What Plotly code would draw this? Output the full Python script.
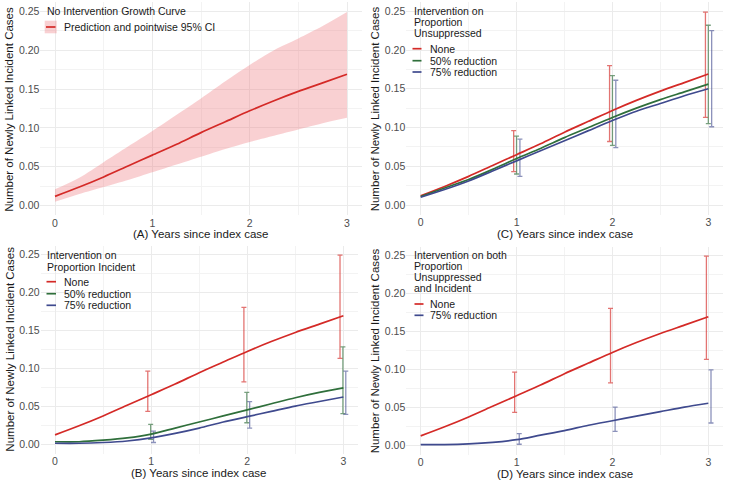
import plotly.graph_objects as go

years = [0, 0.25, 0.5, 0.75, 1, 1.25, 1.5, 1.75, 2, 2.25, 2.5, 2.75, 3]
none_pred = [0.012, 0.024, 0.037, 0.051, 0.065, 0.079, 0.094, 0.108, 0.122, 0.135, 0.147, 0.158, 0.169]
none_upper = [0.021, 0.036, 0.056, 0.076, 0.096, 0.117, 0.138, 0.160, 0.181, 0.200, 0.215, 0.231, 0.249]
none_lower = [0.005, 0.015, 0.024, 0.033, 0.043, 0.053, 0.063, 0.073, 0.082, 0.090, 0.098, 0.106, 0.113]

# Panel C: intervention on proportion unsuppressed
c50_pred = [0.011, 0.022, 0.033, 0.046, 0.060, 0.073, 0.087, 0.100, 0.113, 0.125, 0.136, 0.146, 0.156]
c75_pred = [0.010, 0.020, 0.031, 0.044, 0.057, 0.070, 0.083, 0.096, 0.109, 0.121, 0.131, 0.141, 0.150]

# Panel B: intervention on proportion incident
b50_pred = [0.003, 0.003, 0.005, 0.008, 0.013, 0.021, 0.029, 0.037, 0.045, 0.053, 0.061, 0.068, 0.074]
b75_pred = [0.001, 0.001, 0.002, 0.004, 0.008, 0.014, 0.021, 0.029, 0.036, 0.043, 0.050, 0.056, 0.062]

# Panel D: intervention on both
d75_pred = [0.0005, 0.0006, 0.0015, 0.0035, 0.007, 0.013, 0.019, 0.026, 0.032, 0.038, 0.044, 0.050, 0.055]

ci_years = [1, 2, 3]
none_ci_val = [0.065, 0.122, 0.169]
none_ci_lo = [0.043, 0.082, 0.113]
none_ci_hi = [0.096, 0.180, 0.249]

c50_ci_val = [0.060, 0.113, 0.156]
c50_ci_lo = [0.040, 0.077, 0.105]
c50_ci_hi = [0.089, 0.167, 0.232]
c75_ci_val = [0.057, 0.109, 0.150]
c75_ci_lo = [0.037, 0.074, 0.101]
c75_ci_hi = [0.085, 0.161, 0.225]

b50_ci_val = [0.013, 0.045, 0.074]
b50_ci_lo = [0.006, 0.028, 0.040]
b50_ci_hi = [0.026, 0.068, 0.128]
b75_ci_val = [0.008, 0.036, 0.062]
b75_ci_lo = [0.002, 0.021, 0.039]
b75_ci_hi = [0.017, 0.056, 0.096]

d75_ci_val = [0.007, 0.032, 0.055]
d75_ci_lo = [0.001, 0.018, 0.029]
d75_ci_hi = [0.015, 0.050, 0.099]

x_tick_labels = ["0", "1", "2", "3"]
y_tick_labels = ["0.00", "0.05", "0.10", "0.15", "0.20", "0.25"]

RED = "#d42a27"
GREEN = "#2f6f3b"
BLUE = "#3f4a8e"
RED_E = "rgba(212,42,39,0.65)"
GREEN_E = "rgba(47,111,59,0.65)"
BLUE_E = "rgba(63,74,142,0.6)"
RIBBON = "rgba(238,120,125,0.35)"

W, H = 730, 486
FONT = "Liberation Sans, Arial, sans-serif"
GRID = "#ebebeb"
TXT = "#1a1a1a"

fig = go.Figure()

def line(x, y, color, xa, ya):
    fig.add_trace(go.Scatter(x=x, y=y, mode="lines",
                             line=dict(color=color, width=1.7, shape="spline", smoothing=0.8),
                             xaxis=xa, yaxis=ya, showlegend=False, hoverinfo="skip"))

def ebar(x, val, lo, hi, color, off, xa, ya):
    fig.add_trace(go.Scatter(
        x=[v + off for v in x], y=val, mode="markers",
        marker=dict(size=1, opacity=0),
        error_y=dict(type="data", symmetric=False,
                     array=[h - v for h, v in zip(hi, val)],
                     arrayminus=[v - l for v, l in zip(val, lo)],
                     color=color, thickness=1.3, width=2.5),
        xaxis=xa, yaxis=ya, showlegend=False, hoverinfo="skip"))

# Panel A
fig.add_trace(go.Scatter(x=years, y=none_lower, mode="lines",
                         line=dict(width=0, color="rgba(0,0,0,0)", shape="spline", smoothing=0.8),
                         showlegend=False, xaxis="x", yaxis="y", hoverinfo="skip"))
fig.add_trace(go.Scatter(x=years, y=none_upper, mode="lines",
                         line=dict(width=0, color="rgba(0,0,0,0)", shape="spline", smoothing=0.8),
                         fill="tonexty", fillcolor=RIBBON,
                         showlegend=False, xaxis="x", yaxis="y", hoverinfo="skip"))
line(years, none_pred, RED, "x", "y")

# Panel C (top right)
ebar(ci_years, none_ci_val, none_ci_lo, none_ci_hi, RED_E, -0.03, "x2", "y2")
ebar(ci_years, c50_ci_val, c50_ci_lo, c50_ci_hi, GREEN_E, 0.0, "x2", "y2")
ebar(ci_years, c75_ci_val, c75_ci_lo, c75_ci_hi, BLUE_E, 0.035, "x2", "y2")
line(years, none_pred, RED, "x2", "y2")
line(years, c50_pred, GREEN, "x2", "y2")
line(years, c75_pred, BLUE, "x2", "y2")

# Panel B (bottom left)
ebar(ci_years, none_ci_val, none_ci_lo, none_ci_hi, RED_E, -0.035, "x3", "y3")
ebar(ci_years, b50_ci_val, b50_ci_lo, b50_ci_hi, GREEN_E, -0.005, "x3", "y3")
ebar(ci_years, b75_ci_val, b75_ci_lo, b75_ci_hi, BLUE_E, 0.025, "x3", "y3")
line(years, none_pred, RED, "x3", "y3")
line(years, b50_pred, GREEN, "x3", "y3")
line(years, b75_pred, BLUE, "x3", "y3")

# Panel D (bottom right)
ebar(ci_years, none_ci_val, none_ci_lo, none_ci_hi, RED_E, -0.02, "x4", "y4")
ebar(ci_years, d75_ci_val, d75_ci_lo, d75_ci_hi, BLUE_E, 0.028, "x4", "y4")
line(years, none_pred, RED, "x4", "y4")
line(years, d75_pred, BLUE, "x4", "y4")

def px(x):
    return x / W

def py(y):
    return 1 - y / H

# panel pixel boxes: (left, right, top, bottom)
P_A = (40.4, 361.6, 2.4, 215.4)
P_C = (406.3, 722.7, 2.4, 214.7)
P_B = (40.6, 357.8, 245.6, 453.5)
P_D = (406.3, 722.7, 246.6, 454.5)

def xaxis(p, anchor):
    return dict(domain=[px(p[0]), px(p[1])], anchor=anchor, range=[-0.15, 3.15],
                tickvals=[0, 1, 2, 3], ticktext=x_tick_labels, automargin=False,
                showgrid=True, gridcolor=GRID, gridwidth=1, zeroline=False, showline=False,
                ticks="", tickfont=dict(size=10.5, color="#4d4d4d", family=FONT),
                minor=dict(tickvals=[0.5, 1.5, 2.5], showgrid=True, gridcolor="#f3f3f3", gridwidth=0.7))

def yaxis(p, anchor):
    return dict(domain=[py(p[3]), py(p[2])], anchor=anchor, range=[-0.0125, 0.2615],
                tickvals=[0, 0.05, 0.10, 0.15, 0.20, 0.25], ticktext=y_tick_labels,
                automargin=False,
                showgrid=True, gridcolor=GRID, gridwidth=1, zeroline=False, showline=False,
                ticks="", tickfont=dict(size=10.5, color="#4d4d4d", family=FONT),
                minor=dict(tickvals=[0.025, 0.075, 0.125, 0.175, 0.225], showgrid=True,
                           gridcolor="#f3f3f3", gridwidth=0.7))

annotations = []
shapes = []

def text(x, y, s, size=10.5, color=TXT, xanchor="left", angle=0):
    annotations.append(dict(x=px(x), y=py(y), xref="paper", yref="paper", text=s,
                            showarrow=False, xanchor=xanchor, yanchor="middle",
                            textangle=angle,
                            font=dict(size=size, color=color, family=FONT)))

# axis titles
for p, letter in [(P_A, "A"), (P_C, "C"), (P_B, "B"), (P_D, "D")]:
    text((p[0] + p[1]) / 2, p[3] + 19, f"({letter}) Years since index case", size=11.5, xanchor="center")
    text(p[0] - 31.5, (p[2] + p[3]) / 2, "Number of Newly Linked Incident Cases", size=11.5,
         xanchor="center", angle=-90)

def bg(x0, y0, x1, y1):
    shapes.append(dict(type="rect", xref="paper", yref="paper", x0=px(x0), x1=px(x1),
                       y0=py(y1), y1=py(y0), fillcolor="white", line=dict(width=0), layer="between"))

def key(x0, x1, y, color):
    shapes.append(dict(type="line", xref="paper", yref="paper", x0=px(x0), x1=px(x1),
                       y0=py(y), y1=py(y), line=dict(color=color, width=1.7)))

# Legend A
bg(43, 3, 212, 35)
text(45, 11, "No Intervention Growth Curve")
shapes.append(dict(type="rect", xref="paper", yref="paper", x0=px(44.7), x1=px(56.7),
                   y0=py(33.3), y1=py(20.7), fillcolor=RIBBON, line=dict(width=0)))
key(46, 55.5, 27, RED)
text(62, 27, "Prediction and pointwise 95% CI")

# Legend C
bg(409, 3, 498, 79)
for i, s in enumerate(["Intervention on", "Proportion", "Unsuppressed"]):
    text(411.7, 11 + 11 * i, s)
for y, c, s in [(48.7, RED, "None"), (60.7, GREEN, "50% reduction"), (72, BLUE, "75% reduction")]:
    key(412.5, 421.5, y, c)
    text(428, y, s)

# Legend B
bg(43, 248, 132, 312)
for i, s in enumerate(["Intervention on", "Proportion Incident"]):
    text(45.3, 255.5 + 11 * i, s)
for y, c, s in [(281.7, RED, "None"), (293.7, GREEN, "50% reduction"), (305.3, BLUE, "75% reduction")]:
    key(46.5, 56, y, c)
    text(61.7, y, s)

# Legend D
bg(409, 248, 505, 322)
for i, s in enumerate(["Intervention on both", "Proportion", "Unsuppressed", "and Incident"]):
    text(411.7, 255.3 + 11 * i, s)
for y, c, s in [(304, RED, "None"), (315.3, BLUE, "75% reduction")]:
    key(414.5, 423.5, y, c)
    text(427.7, y, s)

fig.update_layout(
    width=W, height=H,
    margin=dict(l=0, r=0, t=0, b=0),
    paper_bgcolor="white", plot_bgcolor="white",
    font=dict(family=FONT),
    showlegend=False,
    hovermode=False,
    xaxis=xaxis(P_A, "y"), yaxis=yaxis(P_A, "x"),
    xaxis2=xaxis(P_C, "y2"), yaxis2=yaxis(P_C, "x2"),
    xaxis3=xaxis(P_B, "y3"), yaxis3=yaxis(P_B, "x3"),
    xaxis4=xaxis(P_D, "y4"), yaxis4=yaxis(P_D, "x4"),
    annotations=annotations,
    shapes=shapes,
)

fig.write_html("out.html", config={"displayModeBar": False},
               post_script="document.body.style.margin='0px';document.body.style.overflow='hidden';")
